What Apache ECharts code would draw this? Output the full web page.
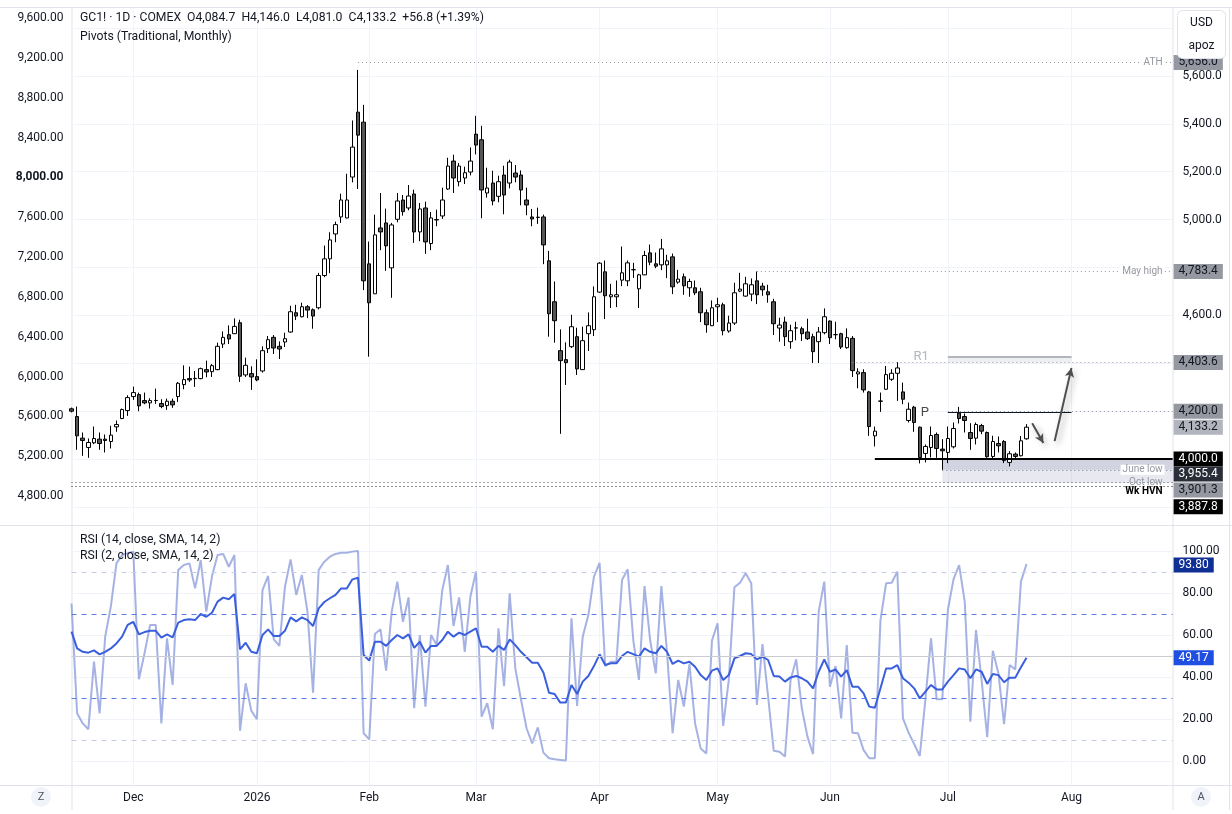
<!DOCTYPE html>
<html><head><meta charset="utf-8">
<script src="https://cdn.jsdelivr.net/npm/echarts@6/dist/echarts.min.js"></script>
<style>html,body{margin:0;padding:0;background:#fff}#c{width:1232px;height:814px}</style>
</head><body><div id="c"></div>
<script>
// ---------------- DATA ----------------
const firstSession = '2025-11-13';
const holidays = ['2025-11-27','2025-12-25','2026-01-01','2026-01-19','2026-02-16','2026-04-03','2026-05-25','2026-06-19','2026-07-03'];
const slotCount = 197; // trading-day slots on the time axis (incl. empty future space)
const monthNames = ['Jan','Feb','Mar','Apr','May','Jun','Jul','Aug','Sep','Oct','Nov','Dec'];

const opens = [4210,4177.7,4087.5,4048.6,4068,4083.3,4083.3,4073.6,4134.7,4169.4,4202.7,4261.1,4269.4,4244.4,4234.7,4244.4,4231.9,4223.6,4241.6,4261.1,4311.1,4336.1,4336,4336.1,4373.6,4365.2,4373.6,4480.5,4519.4,4523.6,4569.4,4351.4,4356.9,4344.4,4368,4461.1,4508.3,4470.8,4488.9,4530.5,4611.1,4594.4,4636.1,4623.6,4631.9,4766.6,4836.1,4940.2,5011.1,5006.9,5177.7,5448.6,5406.9,4815.2,4690.2,4965.2,4986.1,4798.6,5001.3,5081.9,5048.6,5106.9,4948.6,5048.6,4900,5000,5015.2,5127.7,5244.4,5158.3,5173.6,5198.6,5356.9,5333.3,5111.1,5152.7,5097.2,5186.1,5152.7,5194.4,5186.1,5081.9,5011.1,5009,5011.1,4827.8,4656.9,4452.8,4415.3,4469.4,4511.1,4373.6,4523.6,4540.3,4697.2,4781.9,4677.8,4677.8,4747.2,4744.4,4790.3,4711.1,4769.4,4861.1,4815.3,4811.1,4811.1,4844.4,4738.9,4761.1,4715.3,4715.3,4698.6,4611.1,4556.9,4636.1,4644.4,4534.7,4568.1,4701.4,4680.6,4688.9,4744.4,4722.2,4698.6,4656.9,4547.2,4572.2,4490.3,4547.2,4544.4,4530.6,4511.1,4490.3,4527.8,4576.4,4519.4,4523.6,4465.3,4504.2,4355.6,4361.1,4280.6,4097.2,4241.7,4291.7,4333.3,4358.3,4280.6,4161.1,4216.7,4133.3,4023.6,4048.6,4102.8,4041.7,4027.8,4051.4,4191.7,4177.8,4111.1,4087.5,4140.3,4111.1,4011.1,4065.3,4073.6,3986.1,4020.8,4014,4084.7];
const highs = [4215,4219.4,4111.1,4086.1,4136.1,4111.1,4102.7,4138.9,4161.1,4211.1,4266.6,4302.7,4277.7,4277.7,4254.1,4294.4,4250,4252.7,4252.7,4322.2,4391.6,4386.1,4368,4381.9,4411.1,4397.2,4486.1,4533.3,4558.3,4587.5,4581.9,4423.6,4387.5,4416.6,4470.8,4513.9,4518,4491.6,4527.7,4640.3,4644.4,4652.7,4643,4629.1,4777.7,4891.6,4947.2,4991.6,5108.3,5191.6,5413.9,5625,5479.1,4908.3,5020.8,5111.1,5045.8,4986.1,5111.1,5102.7,5144.4,5125,5069.4,5075,5031.9,5041.6,5133.3,5258.3,5270.8,5236.1,5220.8,5301.3,5433.3,5391.6,5216.6,5204.1,5183.3,5225,5250,5227.7,5205.5,5133.3,5044.4,5050,5020.8,4869.4,4741.7,4541.7,4487.5,4602.8,4548.6,4552.8,4612.5,4720.8,4822.2,4829.2,4731.9,4745.8,4887.5,4829.2,4819.4,4773.6,4869.4,4895.8,4862.5,4919.4,4852.8,4858.3,4790.3,4775,4752.8,4745.8,4715.3,4625,4662.5,4673.6,4652.8,4598.6,4736.1,4777.8,4761.1,4754.2,4783.4,4736.1,4727.8,4669.4,4590.3,4594.4,4561.1,4573.6,4552.8,4586.1,4523.6,4551.4,4629.2,4579.2,4573.6,4527.8,4545.8,4513.9,4379.2,4375,4284.7,4136.1,4277.8,4388.9,4375,4405.6,4319.4,4236.1,4222.2,4136.1,4061.1,4136.1,4111.1,4083.3,4136.1,4152.8,4218.1,4190.3,4150,4152.8,4147.2,4115.3,4097.2,4094.4,4079.2,4033.3,4027.8,4096,4146];
const lows = [4195,4038.8,4013.8,4005.5,4062.5,4038.8,4027.7,4044.4,4113.9,4166.6,4180.5,4247.2,4200,4229.1,4211.1,4230.5,4212.5,4205.5,4213.9,4238.8,4291.6,4322.2,4301.4,4333.3,4341.6,4343,4370.8,4463.9,4480.5,4522.2,4322.2,4343,4288.8,4325,4361.1,4443,4438.9,4418,4468,4527.7,4580.5,4591.6,4588.8,4544.4,4625,4759.7,4776.4,4905.5,4986.1,5005.5,5155.5,5127.7,4705.5,4427.7,4690,4872.2,4786.1,4673.6,4988.8,5016.6,5038.8,4902.7,4909.7,4856.9,4872.2,4972.2,5002.7,5123.6,5111.1,5138.9,5148.6,5184.7,5272.2,5005.5,5091.6,5059.7,5072.2,5022.2,5130.5,5155.5,5059.7,5018,4972.2,4981.9,4813.8,4511.1,4486.1,4105.6,4309.7,4463.9,4351.4,4372.2,4451.4,4513.9,4694.4,4584.7,4630.6,4634.7,4722.2,4722.2,4756.9,4630.6,4768,4809.7,4797.2,4788.9,4755.6,4688.9,4731.9,4686.1,4677.8,4684.7,4572.2,4527.8,4555.6,4572.2,4516.7,4527.8,4559.7,4697.2,4677.8,4659.7,4647.2,4681.9,4652.8,4518.1,4490.3,4472.2,4461.1,4495.8,4493.1,4497.2,4401.4,4401.4,4520.8,4480.6,4500,4459.7,4461.1,4343.1,4295.8,4277.8,4097.2,4052.8,4197.2,4288.9,4326.4,4243.1,4229.2,4152.8,4113.9,3981.9,3986.1,4006.9,4005.6,3955.4,3983.3,4044.4,4148.6,4111.1,4038.9,4061.1,4104.2,4005.6,4000,4027.8,3983.3,3969.4,4000,4011,4081];
const closes = [4200,4097.2,4077.7,4069.4,4086.1,4065.3,4077.7,4100,4144.4,4206.9,4256.9,4277.7,4222.2,4234.7,4244.4,4245,4219.4,4241.6,4226.3,4316.6,4331.9,4330.5,4337,4377.7,4363.9,4390.2,4470.8,4508.3,4501.4,4554.1,4345.8,4391.6,4343,4330.5,4452.7,4498.6,4463.9,4459.7,4502.7,4615.3,4597.2,4636.1,4622.2,4597.2,4766.6,4836.1,4915.2,4979.1,5081.9,5081.9,5302.7,5352.7,4744.4,4652.7,4936.1,4948.6,4890.2,4977.7,5077.7,5033.3,5098.6,4948.6,5044.4,4906.9,5006.9,4998.6,5081.9,5223.6,5173.6,5223.6,5195.8,5244.4,5311.1,5123.6,5131.9,5077.7,5158.3,5102.7,5240.2,5177.7,5123.6,5061.1,5002.7,5010,4894.4,4606.9,4577.8,4411.1,4402.8,4552.8,4376.4,4494.4,4556.9,4677.8,4818.1,4681.9,4686.1,4686.1,4777.8,4819.4,4791,4769.4,4850,4822.2,4805.6,4877.8,4827.8,4719.4,4751.4,4723.6,4741.7,4694.4,4611.1,4561.1,4631.9,4644.4,4536.1,4568.1,4694.4,4709.7,4731.9,4727.8,4686.1,4706.9,4686.1,4565.3,4559.7,4511.1,4536.1,4548,4523.6,4502.8,4448.6,4530.6,4594.4,4506.9,4520,4468.1,4506.9,4369.4,4363.9,4288.9,4136.1,4116.7,4242.5,4352.8,4358.3,4380.6,4250,4208.3,4152.8,4006.9,4052.8,4098.6,4044.4,4034.7,4086.1,4127.8,4169.4,4161.1,4086.1,4144.4,4116.7,4009.7,4073.6,4055.6,3994.4,4022.2,4011.1,4076.4,4133.2];

const rsi14 = [61.6,53.6,52,51.6,52.7,50.8,52,53.6,56,59.2,64.8,66.3,60.3,61.4,62,62,58.7,60.3,58.9,65.9,67.1,67.5,67.1,70,68.7,70.6,75.9,77.8,77,79.5,53.2,56.3,52,51.3,60,62.7,59.5,59.5,62,68.4,66.5,68.4,67.1,64.3,72.7,75.7,77.5,79.1,82.2,82.1,86.5,87.3,50.5,47.8,56.8,56.8,54.8,57.6,60,58.4,60.3,53.9,56.8,51.6,54.8,54.8,57.6,61.6,59.2,61.1,60,61.6,63.2,54.4,54.4,52,54.8,52.9,57.9,55.2,52,49.4,46.8,46.8,42.1,32.5,31.9,27.8,27.8,36.2,31.9,37.8,40.5,45.2,50.8,45.7,46.5,46.5,50,52,50.9,49.7,53.6,52,51.3,54.8,52,46.2,47.8,46.5,47.3,44.9,40.9,38.6,43,44.1,38.6,40.9,48.9,50,51.3,50.9,48.4,49.7,48.1,40.5,40.2,37.8,39.8,40.5,39.4,37.8,34.6,42.5,48.4,42.5,43.6,40.2,43.3,35.4,35.4,32.2,25.9,25.4,34.6,44,44.1,45.7,39.4,37.3,34.6,29.8,33,36.2,34.1,34.1,37.8,40.9,44.1,43.6,39.4,43.6,42.5,36.7,41.4,40.9,37.5,39.7,39.7,44.6,49.17];
const rsi2 = [75,22.7,17.9,15.1,47.3,22.7,59.2,73.5,94.1,98.1,98.9,99.7,38.9,51.3,64.8,64.8,17.9,58.4,36.2,91,93.3,94.1,82.2,95.7,71.1,87.8,98.1,98.6,92.5,98.1,14.4,37,24,19.9,81.4,88.1,57.9,54.8,83,96,79.1,88.6,71.1,32.5,91,94.9,97.3,98.6,99.2,99.2,99.7,100,13.2,10.3,60.5,62.7,43,71.1,85.4,66.3,77.9,25.1,60,25.9,60,55.2,81.4,93.3,64.3,77.9,52,78.2,90.2,21.1,27.5,15.1,63.2,35.7,79.8,44.1,29.4,15.6,8.4,16,4,1.3,0.8,0.5,0.2,67.9,26.2,59.2,69.5,87.8,94.4,45.2,47.3,47.3,86.2,91.3,57.6,38.6,83.3,57.6,41.7,83.3,52,13.2,38.6,25.9,46.2,17.9,6,3.6,57.3,65.6,16.7,38.6,82.7,84.9,89.4,84.6,26.7,55.7,30.6,4.9,4.4,2.1,38.6,48.4,25.1,11.6,3.3,71.1,85.4,35.4,45.2,20.3,55.2,13.5,13.2,5.2,1.3,1.3,67.1,84.6,84.9,90.2,20.3,13.5,8.1,2.4,29.4,58.4,29.4,29.4,71.9,86.5,93.3,75.9,18.7,62.4,38.6,11.3,52.5,41.7,17.6,45.7,43.6,85.4,93.8];

// price levels
const athLevel = 5656.0;
const mayHigh = 4783.4;
const r1Drawn = 4403.6;
const pivotDrawn = 4200.0;
const supportLevel = 4000.0;
const juneLow = 3955.4;
const octLow = 3901.3;
const wkHvn = 3887.8;
const lastPrice = 4133.2;
const pivotR1 = 4426;
const pivotP = 4195;
// start bars (index) of drawn lines
const athBar = 51, mayHighBar = 122, r1Bar = 139, pivotBar = 156, supportBar = 143, juneLowBar = 155;
const pivotStart = 156, pivotEnd = 178;
// arrows [bar, value]
const arrowDown = [[171, 4150], [173, 4067]];
const arrowUp = [[175, 4075], [178, 4380]];
// RSI
const rsiLevels = [90, 70, 50, 30, 10];
const rsi14Last = 49.17, rsi2Last = 93.80;
// axis tick labels
const rightTickLabels = [4600, 5000, 5200, 5400, 5600];
const leftBoldTick = 8000;

// ---------------- BUILD ----------------
const dates = [];
(function () {
  const d = new Date(firstSession + 'T00:00:00Z');
  while (dates.length < slotCount) {
    const wd = d.getUTCDay();
    const s = d.toISOString().slice(0, 10);
    if (wd !== 0 && wd !== 6 && holidays.indexOf(s) < 0) dates.push(s);
    d.setUTCDate(d.getUTCDate() + 1);
  }
})();
const lastSlot = slotCount - 1;
function isMonthStart(i) { return i > 0 && dates[i].slice(0, 7) !== dates[i - 1].slice(0, 7); }
function monthLabel(v) { const m = +v.slice(5, 7); return m === 1 ? v.slice(0, 4) : monthNames[m - 1]; }
const fmt1 = v => v.toLocaleString('en-US', {minimumFractionDigits: 1, maximumFractionDigits: 1});
const fmt2 = v => v.toLocaleString('en-US', {minimumFractionDigits: 2, maximumFractionDigits: 2});

const candles = opens.map((o, i) => [o, closes[i], lows[i], highs[i]]);

const F = 'Roboto, "Liberation Sans", sans-serif';
const TXT = '#131722';
const GL = 71.5, GR = 59.4;
const GRIDC = '#f0f3fa';
const HIDDEN = {color: 'rgba(0,0,0,0)', width: 0, opacity: 1};

function dotted(color) { return {color: color, width: 1, type: [1, 3]}; }
function endText(text, color, extra) {
  return Object.assign({show: true, position: 'insideEnd', formatter: text, color: color, fontSize: 10, fontFamily: F,
    distance: [8, 0], backgroundColor: '#ffffff', padding: [0, 2]}, extra || {});
}
function tag(value, text, bg, fg) {
  return {yAxis: value, lineStyle: HIDDEN, label: {show: true, opacity: 1, position: 'end', formatter: text, backgroundColor: bg,
    color: fg, fontSize: 12, fontFamily: F, padding: [2, 5, 1, 5], distance: 1}};
}

const mainLines = [
  [{coord: [athBar, athLevel], lineStyle: dotted('#9598a1'), label: endText('ATH', '#9598a1')}, {coord: [lastSlot, athLevel]}],
  [{coord: [mayHighBar, mayHigh], lineStyle: dotted('#9598a1'), label: endText('May high', '#9598a1')}, {coord: [lastSlot, mayHigh]}],
  [{coord: [r1Bar, r1Drawn], lineStyle: dotted('#9598a1'), label: {show: false}}, {coord: [lastSlot, r1Drawn]}],
  [{coord: [pivotBar, pivotDrawn], lineStyle: dotted('#9598a1'), label: {show: false}}, {coord: [lastSlot, pivotDrawn]}],
  [{coord: [pivotStart, pivotR1], lineStyle: {color: '#b2b5be', width: 2, type: 'solid'},
    label: {show: true, position: 'start', formatter: 'R1', color: '#b2b5be', fontSize: 13, fontFamily: F, distance: [19, 0]}}, {coord: [pivotEnd, pivotR1]}],
  [{coord: [pivotStart, pivotP], lineStyle: {color: '#131722', width: 1, type: 'solid'},
    label: {show: true, position: 'start', formatter: 'P', color: '#4a4a4a', fontSize: 13, fontFamily: F, distance: [19, 0]}}, {coord: [pivotEnd, pivotP]}],
  [{coord: [supportBar, supportLevel], lineStyle: {color: '#000000', width: 2, type: 'solid'}, label: {show: false}}, {coord: [lastSlot, supportLevel]}],
  [{coord: [juneLowBar, juneLow], lineStyle: dotted('#787b86'), label: endText('June low', '#9598a1')}, {coord: [lastSlot, juneLow]}],
  [{coord: [0, octLow], lineStyle: dotted('#50535e'), label: endText('Oct low', '#9598a1', {padding: [0, 2], backgroundColor: 'transparent'})}, {coord: [lastSlot, octLow]}],
  [{coord: [0, wkHvn], lineStyle: dotted('#131722'), label: endText('Wk HVN', '#000000', {position: 'insideEndBottom', fontWeight: 'bold', distance: [8, 1], backgroundColor: 'transparent'})}, {coord: [lastSlot, wkHvn]}],
  [{coord: arrowDown[0], symbol: 'none', lineStyle: {color: '#4f4f4f', width: 2, type: 'solid', shadowBlur: 6, shadowColor: 'rgba(0,0,0,0.35)', shadowOffsetX: 3, shadowOffsetY: 3}, label: {show: false}},
   {coord: arrowDown[1], symbol: 'arrow', symbolSize: [7, 9]}],
  [{coord: arrowUp[0], symbol: 'none', lineStyle: {color: '#4f4f4f', width: 2, type: 'solid', shadowBlur: 6, shadowColor: 'rgba(0,0,0,0.35)', shadowOffsetX: 3, shadowOffsetY: 3}, label: {show: false}},
   {coord: arrowUp[1], symbol: 'arrow', symbolSize: [7, 9]}],
  // axis price tags
  tag(athLevel, fmt1(athLevel), '#9598a1', '#131722'),
  tag(mayHigh, fmt1(mayHigh), '#9598a1', '#131722'),
  tag(r1Drawn, fmt1(r1Drawn), '#9598a1', '#131722'),
  tag(pivotDrawn, fmt1(pivotDrawn), '#9598a1', '#131722'),
  tag(lastPrice, fmt1(lastPrice), '#b2b5be', '#131722'),
  tag(supportLevel, fmt1(supportLevel), '#000000', '#ffffff'),
  tag(3937.5, fmt1(juneLow), '#2a2e39', '#ffffff'),
  tag(3871, fmt1(octLow), '#9598a1', '#131722'),
  tag(3801, fmt1(wkHvn), '#000000', '#ffffff')
];

const mainAreas = [
  [{coord: [pivotStart, pivotR1], itemStyle: {color: 'rgba(178,181,190,0.22)'}}, {coord: [pivotEnd, r1Drawn]}],
  [{coord: [juneLowBar, supportLevel], itemStyle: {color: 'rgba(150,156,185,0.22)'}}, {coord: [lastSlot, octLow]}],
  [{coord: [juneLowBar, supportLevel], itemStyle: {color: 'rgba(150,156,185,0.28)'}}, {coord: [lastSlot, juneLow]}]
];

const rsiLineDefs = rsiLevels.map(v => ({
  yAxis: v,
  lineStyle: v === 50 ? {color: '#c9cbd1', width: 1, type: 'solid'}
    : (v === 70 || v === 30) ? {color: '#5a7fe6', width: 1, type: [5, 5]}
    : {color: '#c3cbe9', width: 1, type: [5, 5]},
  label: {show: false}
}));

const monthFn = (i) => isMonthStart(i);
const titleStyle = {fontSize: 12.2, fontWeight: 'normal', color: TXT, fontFamily: F};

const option = {
  animation: false,
  backgroundColor: '#ffffff',
  textStyle: {fontFamily: F},
  title: [
    {text: 'GC1! · 1D · COMEX  O4,084.7  H4,146.0  L4,081.0  C4,133.2  +56.8 (+1.39%)', left: 80, top: 11.5, padding: 0, textStyle: titleStyle},
    {text: 'Pivots (Traditional, Monthly)', left: 80, top: 30.5, padding: 0, textStyle: titleStyle},
    {text: 'RSI (14, close, SMA, 14, 2)', left: 80, top: 533.5, padding: 0, textStyle: titleStyle},
    {text: 'RSI (2, close, SMA, 14, 2)', left: 80, top: 549.5, padding: 0, textStyle: titleStyle}
  ],
  grid: [
    {left: GL, right: GR, top: 28, bottom: 307},   // 0 candles
    {left: GL, right: GR, top: 18, bottom: 318},   // 1 left scale
    {left: GL, right: GR, top: 551, bottom: 53},   // 2 rsi
    {left: GL, right: GR, top: 8, bottom: 289},    // 3 main pane frame
    {left: GL, right: GR, top: 526, bottom: 29}    // 4 rsi pane frame
  ],
  xAxis: [
    {gridIndex: 0, type: 'category', data: dates, boundaryGap: false, show: false},
    {gridIndex: 1, type: 'category', data: dates, boundaryGap: false, show: false},
    {gridIndex: 2, type: 'category', data: dates, boundaryGap: false, show: false},
    {gridIndex: 3, type: 'category', data: dates, boundaryGap: false, axisLine: {show: false}, axisTick: {show: false}, axisLabel: {show: false},
      splitLine: {show: true, interval: monthFn, lineStyle: {color: GRIDC}}},
    {gridIndex: 4, type: 'category', data: dates, boundaryGap: false, axisLine: {show: false}, axisTick: {show: false},
      axisLabel: {show: true, interval: monthFn, formatter: monthLabel, margin: 7, color: TXT, fontSize: 12, fontFamily: F},
      splitLine: {show: true, interval: monthFn, lineStyle: {color: GRIDC}}}
  ],
  yAxis: [
    {gridIndex: 0, type: 'value', position: 'right', min: 3800, max: 5800, interval: 200, axisLine: {show: false}, axisTick: {show: false},
      splitLine: {show: true, lineStyle: {color: GRIDC}},
      axisLabel: {margin: 10, color: TXT, fontSize: 12, fontFamily: F, formatter: v => rightTickLabels.indexOf(v) >= 0 ? fmt1(v) : ''}},
    {gridIndex: 1, type: 'value', position: 'left', min: 4800, max: 9600, interval: 400, axisLine: {show: false}, axisTick: {show: false},
      splitLine: {show: false}, axisLabel: {margin: 8, color: TXT, fontSize: 12, fontFamily: F,
        formatter: v => v === leftBoldTick ? '{b|' + fmt2(v) + '}' : fmt2(v),
        rich: {b: {fontWeight: 'bold', fontSize: 12, color: TXT, fontFamily: F}}}},
    {gridIndex: 2, type: 'value', position: 'right', min: 0, max: 100, interval: 20, axisLine: {show: false}, axisTick: {show: false},
      splitLine: {show: true, lineStyle: {color: GRIDC}}, axisLabel: {margin: 10, color: TXT, fontSize: 12, fontFamily: F, formatter: v => v.toFixed(2)}},
    {gridIndex: 3, type: 'value', min: 0, max: 1, show: false},
    {gridIndex: 4, type: 'value', min: 0, max: 1, show: false}
  ],
  series: [
    {type: 'candlestick', name: 'GC1!', xAxisIndex: 0, yAxisIndex: 0, data: candles, barWidth: 4,
      itemStyle: {color: '#ffffff', color0: '#555555', borderColor: '#000000', borderColor0: '#000000', borderWidth: 1},
      markArea: {silent: true, data: mainAreas},
      markLine: {silent: true, symbol: ['none', 'none'], animation: false, data: mainLines}},
    {type: 'line', name: 'RSI 2', xAxisIndex: 2, yAxisIndex: 2, data: rsi2, showSymbol: false, z: 3,
      lineStyle: {color: 'rgba(122,142,214,0.68)', width: 2},
      markLine: {silent: true, symbol: ['none', 'none'], data: [
        {yAxis: 93.3, lineStyle: HIDDEN, label: {show: true, opacity: 1, position: 'end', formatter: rsi2Last.toFixed(2), backgroundColor: '#0f2f94', color: '#ffffff', fontSize: 12, fontFamily: F, padding: [2, 5, 1, 5], distance: 1}}
      ]}},
    {type: 'line', name: 'RSI 14', xAxisIndex: 2, yAxisIndex: 2, data: rsi14, showSymbol: false, z: 4,
      lineStyle: {color: '#3a5fdc', width: 2},
      markLine: {silent: true, symbol: ['none', 'none'], data: rsiLineDefs.concat([
        {yAxis: rsi14Last, lineStyle: HIDDEN, label: {show: true, opacity: 1, position: 'end', formatter: rsi14Last.toFixed(2), backgroundColor: '#1f4fe0', color: '#ffffff', fontSize: 12, fontFamily: F, padding: [2, 5, 1, 5], distance: 1}}
      ])}}
  ],
  graphic: [
    {type: 'line', shape: {x1: 0, y1: 7.5, x2: 1232, y2: 7.5}, style: {stroke: '#e0e3eb', lineWidth: 1}, silent: true},
    {type: 'line', shape: {x1: 0, y1: 525.5, x2: 1232, y2: 525.5}, style: {stroke: '#e0e3eb', lineWidth: 1}, silent: true},
    {type: 'line', shape: {x1: 0, y1: 785.5, x2: 1232, y2: 785.5}, style: {stroke: '#e0e3eb', lineWidth: 1}, silent: true},
    {type: 'line', shape: {x1: 72, y1: 7, x2: 72, y2: 810}, style: {stroke: '#e0e3eb', lineWidth: 1}, silent: true},
    {type: 'line', shape: {x1: 1173, y1: 7, x2: 1173, y2: 810}, style: {stroke: '#e0e3eb', lineWidth: 1}, silent: true},
    {type: 'line', shape: {x1: 1229.5, y1: 7, x2: 1229.5, y2: 810}, style: {stroke: '#e0e3eb', lineWidth: 1}, silent: true},
    {type: 'group', left: 1177, top: 10, z: 100, children: [
      {type: 'rect', z: 100, shape: {x: 0, y: 0, width: 48, height: 48, r: 5}, style: {fill: '#ffffff', stroke: '#e0e3eb', lineWidth: 1}},
      {type: 'text', z: 101, style: {x: 24, y: 12, text: 'USD', fill: TXT, font: '12px ' + F, textAlign: 'center', textVerticalAlign: 'middle'}},
      {type: 'text', z: 101, style: {x: 24, y: 35, text: 'apoz', fill: TXT, font: '12px ' + F, textAlign: 'center', textVerticalAlign: 'middle'}}
    ]},
    {type: 'circle', shape: {cx: 41, cy: 797, r: 10}, style: {fill: '#f0f3fa'}, silent: true},
    {type: 'text', style: {x: 41, y: 797, text: 'Z', fill: '#50535e', font: '11px ' + F, textAlign: 'center', textVerticalAlign: 'middle'}},
    {type: 'circle', shape: {cx: 1201, cy: 797, r: 10}, style: {fill: '#f0f3fa'}, silent: true},
    {type: 'text', style: {x: 1201, y: 797, text: 'A', fill: '#50535e', font: '11px ' + F, textAlign: 'center', textVerticalAlign: 'middle'}}
  ]
};

const chart = echarts.init(document.getElementById('c'), null, {renderer: 'canvas', width: 1232, height: 814});
chart.setOption(option);
</script>
</body></html>
